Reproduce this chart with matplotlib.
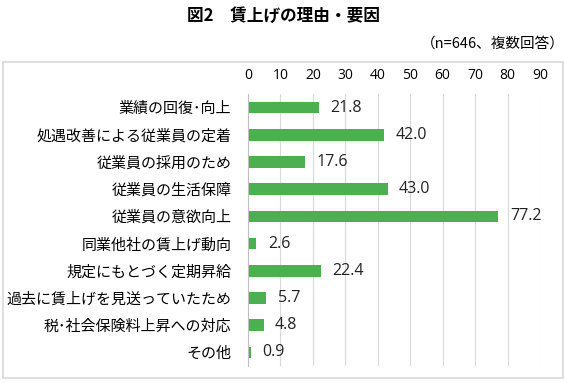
import matplotlib
matplotlib.use("Agg")
import matplotlib.pyplot as plt
from matplotlib.patches import Rectangle

plt.rcParams['font.family'] = ['Noto Sans CJK JP', 'DejaVu Sans']

# data
categories = ['業績の回復･向上', '処遇改善による従業員の定着', '従業員の採用のため',
              '従業員の生活保障', '従業員の意欲向上', '同業他社の賃上げ動向',
              '規定にもとづく定期昇給', '過去に賃上げを見送っていたため',
              '税･社会保険料上昇への対応', 'その他']
values = [21.8, 42.0, 17.6, 43.0, 77.2, 2.6, 22.4, 5.7, 4.8, 0.9]
ticks = list(range(0, 100, 10))

bar_color = '#4caf50'
num_font = ['Open Sans', 'DejaVu Sans']

fig = plt.figure(figsize=(5.66, 3.83), dpi=100)

# outer frame of the chart area
fig.patches.append(Rectangle((3 / 566, 5 / 383), 560 / 566, 316 / 383,
                             transform=fig.transFigure, fill=False,
                             edgecolor='#d9d9d9', linewidth=1.2))

fig.text(0.5, 1 - 16 / 383, '図2　賃上げの理由・要因', ha='center', va='center',
         fontsize=12, fontweight='bold')
fig.text(0.998, 1 - 44 / 383, '（n=646、複数回答）', ha='right', va='center',
         fontsize=10.5)

ax = fig.add_axes([248 / 566, 1 - 366 / 383, (540 - 248) / 566, (366 - 94) / 383])

y = list(range(len(categories)))
ax.barh(y, values, height=0.42, color=bar_color, zorder=3)
for yi, v in zip(y, values):
    ax.text(v + 3.5, yi, f'{v:.1f}', va='center', ha='left', fontsize=11.5,
            family=num_font, color='#222222')

ax.set_xlim(0, 90)
ax.set_ylim(len(categories) - 0.5, -0.5)
ax.set_xticks(ticks)
ax.set_xticklabels([str(t) for t in ticks], family=num_font, fontsize=10)
ax.xaxis.tick_top()
ax.tick_params(axis='x', length=0, pad=8)
ax.set_yticks(y)
ax.set_yticklabels(categories, fontsize=10.8)
ax.tick_params(axis='y', length=0, pad=12)
ax.grid(axis='x', color='#d9d9d9', linewidth=0.8, zorder=0)
for s in ['top', 'right', 'bottom']:
    ax.spines[s].set_visible(False)
ax.spines['left'].set_color('#bfbfbf')
ax.spines['left'].set_zorder(4)

fig.savefig('out.png', dpi=100)
